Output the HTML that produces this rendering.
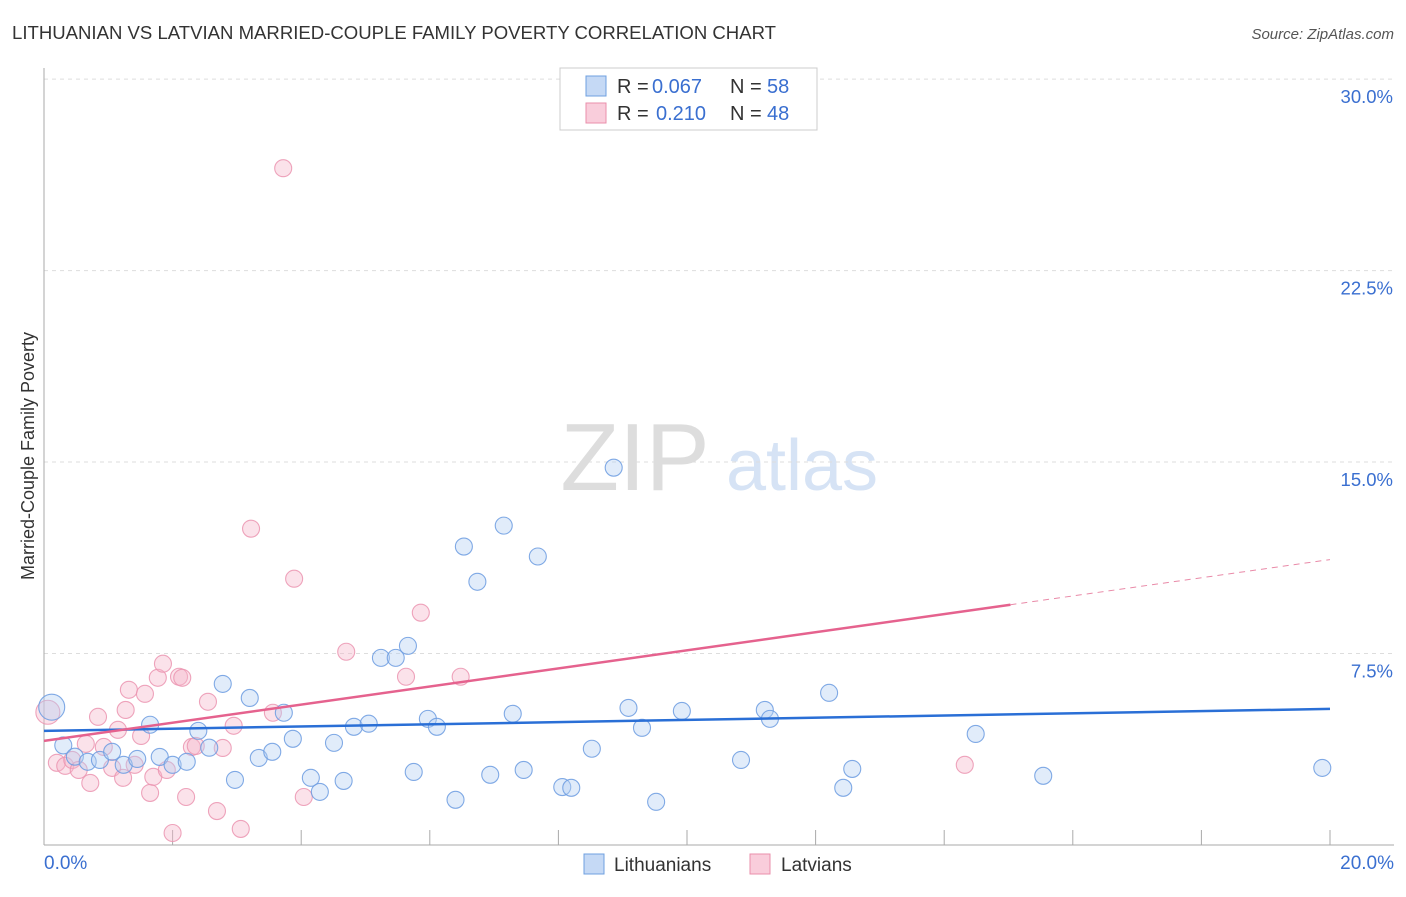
<!DOCTYPE html>
<html><head><meta charset="utf-8"><style>
body{margin:0;background:#fff;font-family:"Liberation Sans",sans-serif;}
svg text{font-family:"Liberation Sans",sans-serif;}
</style></head><body>
<svg id="c" width="1406" height="892" xmlns="http://www.w3.org/2000/svg">
<text x="12" y="39" font-size="18" fill="#333" textLength="764" lengthAdjust="spacingAndGlyphs">LITHUANIAN VS LATVIAN MARRIED-COUPLE FAMILY POVERTY CORRELATION CHART</text>
<text x="1394" y="39" font-size="15" fill="#555" text-anchor="end" font-style="italic">Source: ZipAtlas.com</text>
<text x="635" y="490" font-size="96" fill="#ddd" font-family="Liberation Serif" text-anchor="middle">ZIP</text>
<text x="802" y="490" font-size="72" fill="#d6e3f5" text-anchor="middle">atlas</text>
<text transform="translate(34,456) rotate(-90)" font-size="18" fill="#333" text-anchor="middle">Married-Couple Family Poverty</text>
<g id="grid"></g><g id="marks"></g>
<g>
<rect x="560" y="68" width="257" height="62" fill="#fff" stroke="#ccc"/>
<rect x="586" y="76" width="20" height="20" fill="#c5d9f5" stroke="#6fa0e0"/>
<rect x="586" y="103" width="20" height="20" fill="#f9cddb" stroke="#ea8fab"/>
<text x="617" y="93" font-size="20" fill="#333">R =</text><text x="652" y="93" font-size="20" fill="#3a6fd0">0.067</text>
<text x="730" y="93" font-size="20" fill="#333">N =</text><text x="767" y="93" font-size="20" fill="#3a6fd0">58</text>
<text x="617" y="120" font-size="20" fill="#333">R =</text><text x="656" y="120" font-size="20" fill="#3a6fd0">0.210</text>
<text x="730" y="120" font-size="20" fill="#333">N =</text><text x="767" y="120" font-size="20" fill="#3a6fd0">48</text>
</g>
<g>
<rect x="584" y="854" width="20" height="20" fill="#c5d9f5" stroke="#6fa0e0"/>
<text x="614" y="871" font-size="19" fill="#333">Lithuanians</text>
<rect x="750" y="854" width="20" height="20" fill="#f9cddb" stroke="#ea8fab"/>
<text x="781" y="871" font-size="19" fill="#333">Latvians</text>
</g>
</svg>
<script>
const yTicks=[7.5,15,22.5,30];
const yTickLabels=["7.5%","15.0%","22.5%","30.0%"];
const xTickLabels=["0.0%","20.0%"];
const bluePts=[[0.12,5.4],[0.3,3.9],[0.48,3.46],[0.68,3.26],[0.87,3.33],[1.06,3.65],[1.24,3.14],[1.45,3.37],[1.65,4.71],[1.8,3.45],[2.0,3.14],[2.22,3.26],[2.4,4.47],[2.57,3.81],[2.78,6.31],[2.97,2.55],[3.2,5.76],[3.34,3.41],[3.55,3.65],[3.73,5.18],[3.87,4.16],[4.15,2.63],[4.29,2.08],[4.51,4.0],[4.66,2.51],[4.82,4.63],[5.05,4.75],[5.24,7.33],[5.47,7.33],[5.66,7.8],[5.75,2.86],[5.97,4.94],[6.11,4.63],[6.4,1.77],[6.53,11.69],[6.74,10.31],[6.94,2.75],[7.15,12.51],[7.29,5.14],[7.46,2.94],[7.68,11.3],[8.06,2.27],[8.2,2.24],[8.52,3.77],[8.86,14.78],[9.09,5.37],[9.3,4.59],[9.52,1.69],[9.92,5.25],[10.84,3.33],[11.21,5.29],[11.29,4.94],[12.21,5.96],[12.43,2.24],[12.57,2.98],[14.49,4.35],[15.54,2.71],[19.88,3.02]];
const pinkPts=[[0.06,5.2],[0.2,3.22],[0.33,3.1],[0.44,3.33],[0.54,2.94],[0.65,3.96],[0.72,2.43],[0.84,5.02],[0.93,3.84],[1.06,3.02],[1.15,4.51],[1.23,2.63],[1.27,5.29],[1.32,6.08],[1.41,3.14],[1.51,4.27],[1.57,5.92],[1.65,2.04],[1.7,2.67],[1.77,6.55],[1.85,7.1],[1.91,2.94],[2.0,0.47],[2.1,6.59],[2.15,6.55],[2.21,1.88],[2.3,3.84],[2.36,3.88],[2.55,5.61],[2.69,1.33],[2.78,3.8],[2.95,4.67],[3.06,0.63],[3.22,12.39],[3.56,5.18],[3.72,26.51],[3.89,10.43],[4.04,1.88],[4.7,7.57],[5.63,6.59],[5.86,9.1],[6.48,6.59],[14.32,3.14]];
const blueLine=[[0,4.47],[20,5.33]];
const pinkLine=[[0,4.08],[15.03,9.41]];
const pinkDash=[[15.03,9.41],[20,11.18]];
const X0=44,X1=1330,Y0=845,PY=25.53;
const sx=v=>X0+(X1-X0)*v/20, sy=v=>Y0-v*PY;
const NS="http://www.w3.org/2000/svg";
function mk(t,a,p){const e=document.createElementNS(NS,t);for(const k in a)e.setAttribute(k,a[k]);p.appendChild(e);return e;}
const g=document.getElementById('grid'),m=document.getElementById('marks');
yTicks.forEach((v,i)=>{
 const l=mk('line',{x1:44,x2:1394,y1:sy(v),y2:sy(v),stroke:'#ddd','stroke-dasharray':'4,4'},g);
 
 
 const t=mk('text',{x:1393,y:sy(v)+24,'font-size':18.5,fill:'#3a6fd0','text-anchor':'end'},g);t.textContent=yTickLabels[i];
 
 
});
const ax=mk('line',{x1:44,x2:44,y1:68,y2:845,stroke:'#aaa'},g);


const bx=mk('line',{x1:44,x2:1394,y1:845,y2:845,stroke:'#aaa'},g);


for(let i=1;i<=10;i++){const t=mk('line',{x1:sx(i*2),x2:sx(i*2),y1:830,y2:845,stroke:'#aaa'},g);
 
 }
[[0,'start',44],[1,'end',1394]].forEach(([i,a,x])=>{const t=mk('text',{x:x,y:869,'font-size':19,fill:'#3a6fd0','text-anchor':a},g);t.textContent=xTickLabels[i];
 
 });
function pts(arr,fill,stroke,name){arr.forEach((p,i)=>{const r=(i==0&&p[0]<0.2)?(name=='blue-point'?13:12):8.5;
 const c=mk('circle',{cx:sx(p[0]),cy:sy(p[1]),r:r,fill:fill,'fill-opacity':0.4,stroke:stroke,'stroke-width':1.1,'stroke-opacity':0.85},m);
 
 });}
pts(pinkPts,'#f6b7cb','#eb94b0','pink-point');
pts(bluePts,'#b4cff2','#6b9be0','blue-point');
function ln(a,col,w,dash,name){const l=mk('line',{x1:sx(a[0][0]),y1:sy(a[0][1]),x2:sx(a[1][0]),y2:sy(a[1][1]),stroke:col,'stroke-width':w},m);
 if(dash)l.setAttribute('stroke-dasharray',dash);
 
 }
ln(blueLine,'#2a6fd6',2.5,null,'trend-line-lithuanians');
ln(pinkLine,'#e5628e',2.5,null,'trend-line-latvians');
ln(pinkDash,'#e98aa8',1,'6,5','trend-line-latvians-extrapolated');
</script>
</body></html>
